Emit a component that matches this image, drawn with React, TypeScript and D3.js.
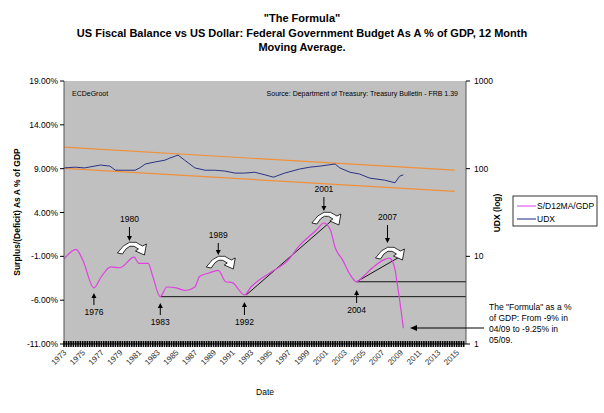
import * as d3 from 'd3';

const W = 604, H = 413;
const PL = 64, PR = 466, PT = 81, PB = 344;

// S/D 12-month MA as % of GDP
const sdYears = [1973, 1974.3, 1975, 1976.2, 1977, 1978, 1979, 1980.5, 1981, 1982, 1982.5, 1983.3, 1984, 1985, 1986, 1987, 1987.5, 1988.5, 1989.5, 1990.3, 1991, 1992.3, 1993, 1995, 1997, 1998, 2000, 2000.8, 2001.5, 2002, 2002.8, 2003.5, 2004.3, 2005, 2006, 2007.2, 2007.8, 2008.3, 2008.7, 2009.3];
const sdValues = [-1.3, -0.2, -1.4, -4.6, -3.3, -2.2, -2.3, -1.1, -1.8, -1.8, -3.3, -5.6, -4.5, -4.6, -4.9, -4.5, -3.3, -2.9, -2.6, -3.9, -4.0, -5.4, -4.5, -2.9, -1.4, 0, 2.0, 2.8, 2.0, 0, -1.4, -2.9, -3.9, -3.3, -2.3, -1.4, -1.2, -2.0, -4.5, -9.2];

// UDX (log scale)
const udxYears = [1973, 1974.2, 1975.2, 1976.9, 1977.9, 1978.5, 1979.5, 1980.6, 1981.1, 1981.7, 1982.7, 1983.8, 1984.3, 1984.9, 1985.2, 1985.9, 1987, 1988.1, 1989.1, 1990.2, 1991.3, 1992.3, 1993.4, 1994.5, 1995.4, 1996.6, 1998.2, 1999.3, 2000.4, 2002, 2002.5, 2003.6, 2004.6, 2005.7, 2007.3, 2008.4, 2008.9, 2009.3];
const udxValues = [102, 104, 102, 110, 107, 96, 96, 96, 102, 113, 119, 125, 132, 139, 143, 125, 102, 96, 96, 94, 89, 89, 91, 85, 80, 89, 99, 104, 107, 113, 102, 91, 87, 78, 74, 69, 82, 85];

const leftTicks = [19, 14, 9, 4, -1, -6, -11];
const rightTicks = [1, 10, 100, 1000];
const yearLabels = d3.range(1973, 2016, 2);

const x = d3.scaleLinear().domain([1973, 2016]).range([PL, PR]);
const yL = d3.scaleLinear().domain([-11, 19]).range([PB, PT]);
const yR = d3.scaleLog().domain([1, 1000]).range([PB, PT]);

const channelTop = [[1973, 176], [2014.8, 96]];
const channelBot = [[1973, 101], [2014.8, 55]];

const arrowPath = 'M0,9 Q12,-9 25,2 L29,0 L27,11 L18,7 L21,5 Q12,-3 5,10 Z';
const downArrows = [
  { year: 1980, label: '1980', ly: 222, a1: 227, a2: 241, cy: 244 },
  { year: 1989.5, label: '1989', ly: 238, a1: 243, a2: 255, cy: 258 },
  { year: 2000.8, label: '2001', ly: 192, a1: 197, a2: 211, cy: 214 },
  { year: 2007.6, label: '2007', ly: 220, a1: 225, a2: 243, cy: 249 },
];
const upArrows = [
  { year: 1976.2, label: '1976', a1: 293, a2: 305, ly: 315 },
  { year: 1983.3, label: '1983', a1: 303, a2: 315, ly: 325 },
  { year: 1992.3, label: '1992', a1: 302, a2: 315, ly: 325 },
  { year: 2004.3, label: '2004', a1: 290, a2: 303, ly: 313 },
];

export default function App() {
  const sdLine = d3.line<number>().x((_, i) => x(sdYears[i])).y(d => yL(d)).curve(d3.curveMonotoneX);
  const udxLine = d3.line<number>().x((_, i) => x(udxYears[i])).y(d => yR(d));
  const ticks = d3.range(1973, 2016, 0.25);
  const font = 'Arial, "Liberation Sans", sans-serif';
  return (
    <svg width={W} height={H} style={{ position: 'absolute', left: 0, top: 0, fontFamily: font }}>
      <rect width={W} height={H} fill="#fff" />
      <g fontWeight="bold" fontSize={11} textAnchor="middle" fill="#000">
        <text x={302} y={22}>"The Formula"</text>
        <text x={302} y={37}>US Fiscal Balance vs US Dollar:  Federal Government Budget As A % of GDP, 12 Month</text>
        <text x={302} y={51}>Moving Average.</text>
      </g>
      <rect x={PL} y={PT} width={PR - PL} height={PB - PT} fill="#c0c0c0" />
      <text x={72} y={96} fontSize={7}>ECDeGroot</text>
      <text x={458} y={96} fontSize={7} textAnchor="end">Source:  Department of Treasury: Treasury Bulletin - FRB 1.39</text>
      {[channelTop, channelBot].map((c, i) => (
        <line key={i} x1={x(c[0][0])} y1={yR(c[0][1])} x2={x(c[1][0])} y2={yR(c[1][1])} stroke="#f0903a" strokeWidth={1.2} />
      ))}
      <path d={udxLine(udxValues) ?? ''} fill="none" stroke="#1a237e" strokeWidth={0.9} />
      <g stroke="#000" strokeWidth={0.9}>
        <line x1={x(1983.3)} y1={yL(-5.6)} x2={PR} y2={yL(-5.6)} />
        <line x1={x(1992.5)} y1={yL(-5.4)} x2={x(2002.2)} y2={yL(3.6)} />
        <line x1={x(2004.3)} y1={yL(-3.9)} x2={PR} y2={yL(-3.9)} />
        <line x1={x(2004.3)} y1={yL(-3.9)} x2={x(2009)} y2={yL(-1.0)} />
      </g>
      <path d={sdLine(sdValues) ?? ''} fill="none" stroke="#e040e0" strokeWidth={1.2} />
      <g fontSize={8.5} textAnchor="middle">
        {downArrows.map(a => (
          <g key={a.label}>
            <text x={x(a.year)} y={a.ly}>{a.label}</text>
            <line x1={x(a.year)} y1={a.a1} x2={x(a.year)} y2={a.a2 - 4} stroke="#000" />
            <path d={`M${x(a.year) - 2.5},${a.a2 - 5} L${x(a.year) + 2.5},${a.a2 - 5} L${x(a.year)},${a.a2} Z`} />
            <path d={arrowPath} transform={`translate(${x(a.year) - 12},${a.cy})`} fill="#fff" stroke="#000" strokeWidth={0.8} />
          </g>
        ))}
        {upArrows.map(a => (
          <g key={a.label}>
            <line x1={x(a.year)} y1={a.a1 + 4} x2={x(a.year)} y2={a.a2} stroke="#000" />
            <path d={`M${x(a.year) - 2.5},${a.a1 + 5} L${x(a.year) + 2.5},${a.a1 + 5} L${x(a.year)},${a.a1} Z`} />
            <text x={x(a.year)} y={a.ly}>{a.label}</text>
          </g>
        ))}
      </g>
      <line x1={PL} y1={PT} x2={PL} y2={PB} stroke="#555" />
      <line x1={PR} y1={PT} x2={PR} y2={PB} stroke="#555" />
      <line x1={PL} y1={PB} x2={PR} y2={PB} stroke="#000" />
      <g fontSize={8.5} textAnchor="end">
        {leftTicks.map(t => (
          <g key={t}>
            <line x1={PL - 4} x2={PL} y1={yL(t)} y2={yL(t)} stroke="#000" />
            <text x={PL - 6} y={yL(t) + 3}>{t.toFixed(2)}%</text>
          </g>
        ))}
      </g>
      <g fontSize={8.5}>
        {rightTicks.map(t => (
          <g key={t}>
            <line x1={PR} x2={PR + 4} y1={yR(t)} y2={yR(t)} stroke="#000" />
            <text x={PR + 8} y={yR(t) + 3}>{t}</text>
          </g>
        ))}
      </g>
      <g stroke="#000" strokeWidth={1.6}>
        {ticks.map(t => <line key={t} x1={x(t)} x2={x(t)} y1={PB - 3} y2={PB + 3} />)}
      </g>
      <g fontSize={8} textAnchor="end" fill="#333">
        {yearLabels.map(yv => (
          <text key={yv} transform={`translate(${x(yv) + 3},${PB + 9}) rotate(-45)`}>{yv}</text>
        ))}
      </g>
      <text x={265} y={395} fontSize={8.5} textAnchor="middle">Date</text>
      <text transform={`translate(20,212) rotate(-90)`} fontSize={8.5} fontWeight="bold" textAnchor="middle">Surplus/(Deficit) As A %  of GDP</text>
      <text transform={`translate(500,213) rotate(-90)`} fontSize={8.5} fontWeight="bold" textAnchor="middle">UDX (log)</text>
      <rect x={513} y={196} width={84} height={30} fill="#fff" stroke="#000" strokeWidth={0.8} />
      <line x1={517} x2={536} y1={206} y2={206} stroke="#e040e0" />
      <text x={537} y={209} fontSize={8.5}>S/D12MA/GDP</text>
      <line x1={517} x2={536} y1={219} y2={219} stroke="#1a237e" />
      <text x={537} y={222} fontSize={8.5}>UDX</text>
      <g fontSize={8.5}>
        <text x={489} y={310}>The "Formula" as a %</text>
        <text x={489} y={321}>of GDP:  From -9% in</text>
        <text x={489} y={332}>04/09 to -9.25% in</text>
        <text x={489} y={343}>05/09.</text>
      </g>
      <line x1={484} x2={416} y1={328} y2={328} stroke="#000" />
      <path d="M410,328 L417,325 L417,331 Z" />
    </svg>
  );
}
